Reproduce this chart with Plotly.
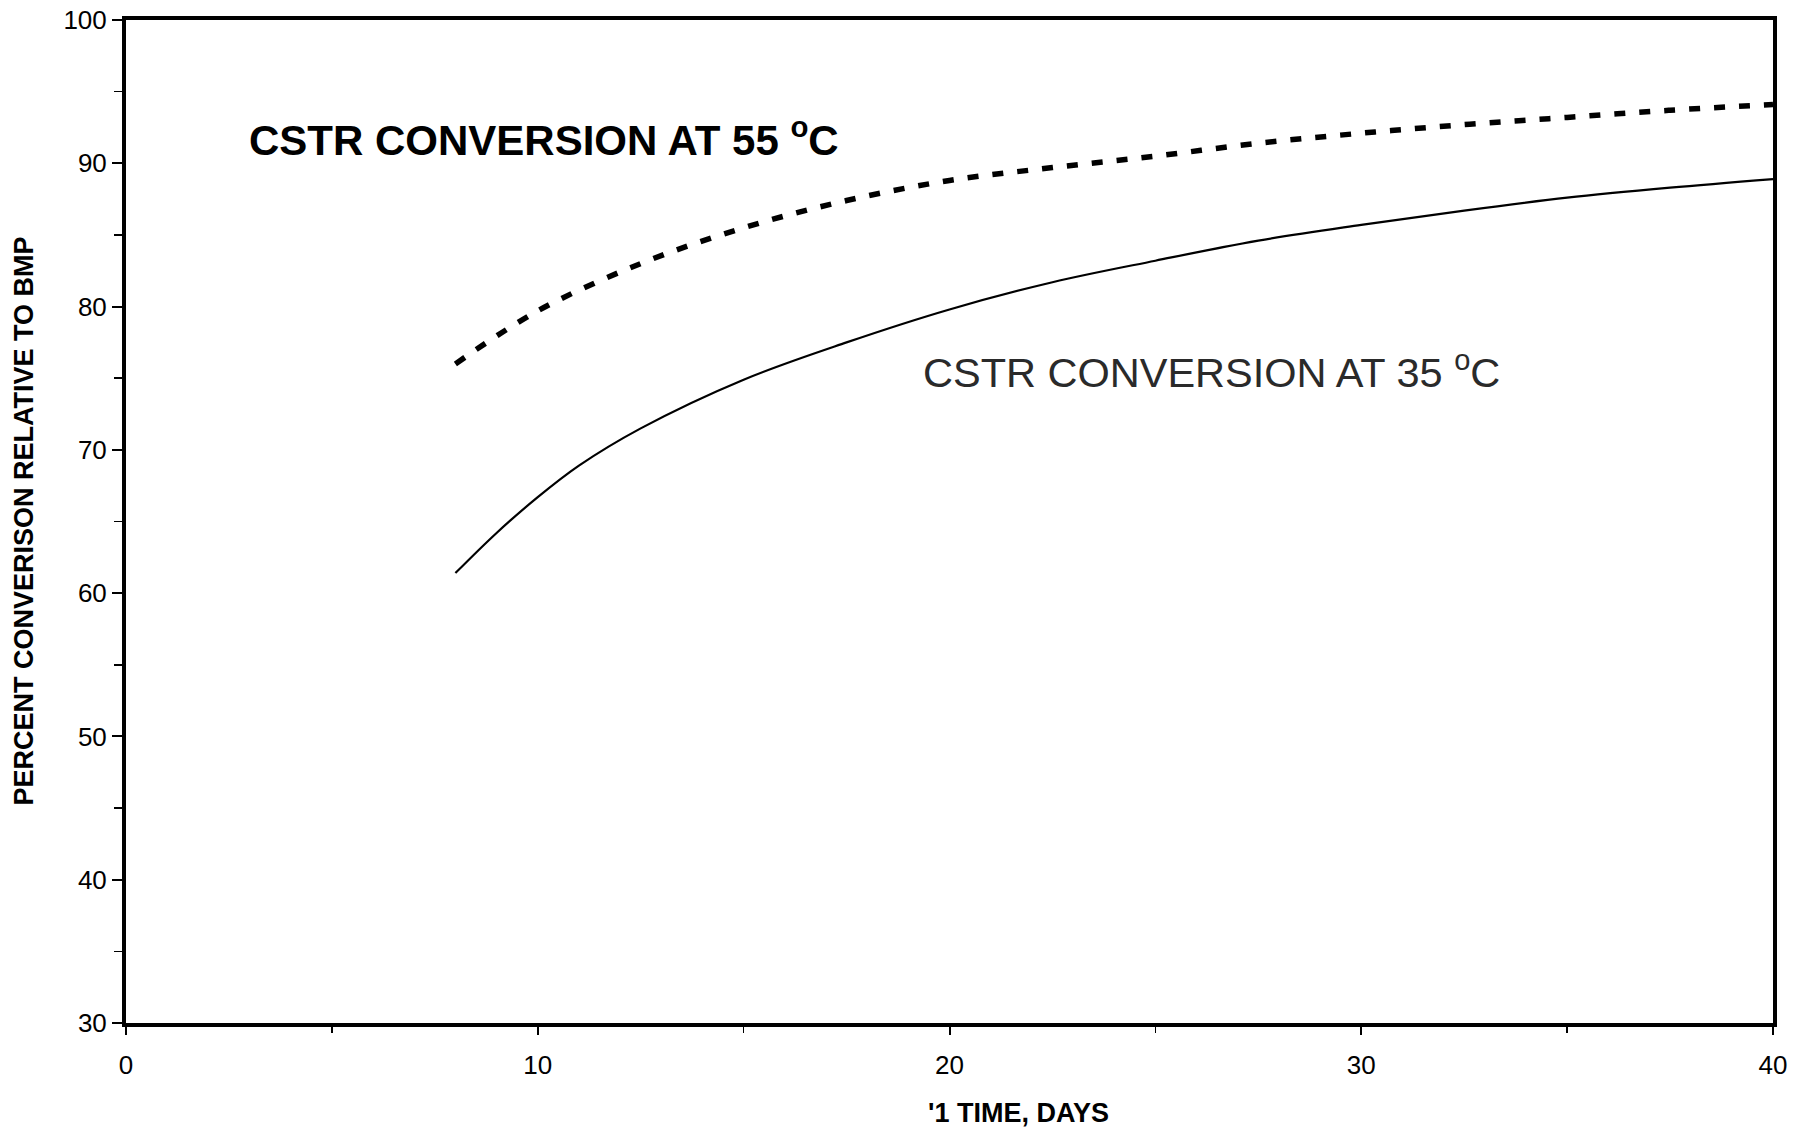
import plotly.graph_objects as go

# Data
days_55 = [8, 10, 12.5, 15, 17.5, 20, 22.5, 25, 27.5, 30, 32.5, 35, 37.5, 40]
conv_55 = [76.0, 79.7, 83.0, 85.5, 87.4, 88.8, 89.7, 90.5, 91.4, 92.1, 92.7, 93.2, 93.7, 94.1]

days_35 = [8, 9, 10, 11, 12.5, 15, 17.5, 20, 22.5, 25, 27.5, 30, 32.5, 35, 37.5, 40]
conv_35 = [61.4, 64.2, 66.7, 68.9, 71.5, 74.9, 77.5, 79.8, 81.7, 83.2, 84.6, 85.7, 86.7, 87.6, 88.3, 88.9]

x_ticks = [0, 10, 20, 30, 40]
y_ticks = [30, 40, 50, 60, 70, 80, 90, 100]

label_55 = "CSTR CONVERSION AT 55 <sup>o</sup>C"
label_35 = "CSTR CONVERSION AT 35 <sup>o</sup>C"
x_title = "'1 TIME, DAYS"
y_title = "PERCENT CONVERISON RELATIVE TO BMP"

FONT = "Liberation Sans, Arial, sans-serif"

W, H = 1806, 1131
L, R, T, B = 126, 33, 20, 108
PW, PH = W - L - R, H - T - B

fig = go.Figure()
fig.add_trace(go.Scatter(x=days_55, y=conv_55, mode="lines", line_shape="spline",
                         line=dict(color="black", width=5.5, dash="11px,14px"),
                         showlegend=False, hoverinfo="skip"))
fig.add_trace(go.Scatter(x=days_35, y=conv_35, mode="lines", line_shape="spline",
                         line=dict(color="black", width=2.2),
                         showlegend=False, hoverinfo="skip"))

fig.add_annotation(x=2.95, y=91.8, xref="x", yref="y", text=label_55, showarrow=False,
                   xanchor="left", yanchor="middle",
                   font=dict(family=FONT, size=42, color="black", weight="bold"))
fig.add_annotation(x=19.3, y=75.6, xref="x", yref="y", text=label_35, showarrow=False,
                   xanchor="left", yanchor="middle",
                   font=dict(family=FONT, size=41.5, color="#2a2a2a"))
# axis titles placed as annotations (positions in window pixels)
fig.add_annotation(x=(1018 - L) / PW, y=-(1113 - (H - B)) / PH,
                   xref="paper", yref="paper",
                   text=x_title, showarrow=False, xanchor="center", yanchor="middle",
                   font=dict(family=FONT, size=27, color="black", weight="bold"))
fig.add_annotation(x=-(L - 23) / PW, y=0.5, xref="paper", yref="paper",
                   text=y_title, showarrow=False, xanchor="center", yanchor="middle",
                   textangle=-90,
                   font=dict(family=FONT, size=27, color="black", weight="bold"))

fig.update_layout(
    width=W, height=H,
    margin=dict(l=L, r=R, t=T, b=B, autoexpand=False),
    paper_bgcolor="white", plot_bgcolor="white",
    font=dict(family=FONT, color="black"),
    xaxis=dict(range=[0, 40], tickvals=x_ticks, ticks="outside", ticklen=8, tickwidth=2,
               tickcolor="black", showline=True, linecolor="black", linewidth=4,
               mirror=True, showgrid=False, zeroline=False, automargin=False,
               tickfont=dict(size=26, family=FONT), ticklabelstandoff=8,
               ticklabeloverflow="allow",
               minor=dict(dtick=5, ticks="outside", ticklen=6, tickwidth=1.5, tickcolor="black")),
    yaxis=dict(range=[30, 100], tickvals=y_ticks, ticks="outside", ticklen=10, tickwidth=2,
               tickcolor="black", showline=True, linecolor="black", linewidth=4,
               mirror=True, showgrid=False, zeroline=False, automargin=False,
               tickfont=dict(size=26, family=FONT), ticklabelstandoff=0,
               ticklabeloverflow="allow",
               minor=dict(dtick=5, ticks="outside", ticklen=8, tickwidth=1.5, tickcolor="black")),
)

fig.write_html("out.html", config={"displayModeBar": False, "staticPlot": True},
               post_script="document.body.style.margin='0';document.body.style.overflow='hidden';")
